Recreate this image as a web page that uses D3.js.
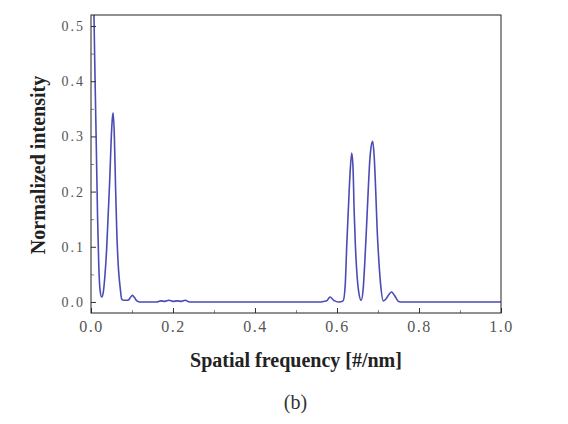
<!DOCTYPE html>
<html>
<head>
<meta charset="utf-8">
<script src="https://cdn.jsdelivr.net/npm/d3@7"></script>
<style>
  body { margin: 0; background: #fff; }
  svg { display: block; }
  .tick text { font-family: "Liberation Serif", "Times New Roman", serif; fill: #555; }
  .xax .tick text { font-size: 16px; letter-spacing: 1.5px; }
  .yax .tick text { font-size: 14px; letter-spacing: 2px; }
  .domain { display: none; }
</style>
</head>
<body>
<div id="chart"></div>
<script>
// spatial frequency [#/nm] and normalized intensity
var freq = [0.000, 0.004, 0.007, 0.010, 0.013, 0.016, 0.019, 0.022, 0.026, 0.030,
            0.034, 0.038, 0.042, 0.046, 0.049, 0.052, 0.054, 0.057, 0.060, 0.063,
            0.067, 0.071, 0.075, 0.080, 0.090, 0.096, 0.101, 0.106, 0.112, 0.120,
            0.160, 0.170, 0.180, 0.190, 0.200, 0.210, 0.220, 0.230, 0.240, 0.250,
            0.300, 0.400, 0.500, 0.560, 0.575, 0.583, 0.592, 0.605, 0.615, 0.620,
            0.624, 0.628, 0.632, 0.636, 0.639, 0.642, 0.645, 0.648, 0.653, 0.659,
            0.664, 0.668, 0.672, 0.676, 0.679, 0.683, 0.687, 0.691, 0.695, 0.698,
            0.701, 0.706, 0.713, 0.720, 0.727, 0.733, 0.740, 0.750, 0.760, 0.800,
            0.900, 1.000];
var intensity = [0.950, 0.700, 0.530, 0.400, 0.280, 0.155, 0.065, 0.022, 0.009, 0.018,
                 0.048, 0.094, 0.160, 0.227, 0.290, 0.332, 0.343, 0.300, 0.205, 0.124,
                 0.060, 0.027, 0.005, 0.003, 0.003, 0.008, 0.012, 0.008, 0.002, 0.000,
                 0.000, 0.002, 0.001, 0.003, 0.001, 0.002, 0.001, 0.003, 0.000, 0.000,
                 0.000, 0.000, 0.000, 0.000, 0.002, 0.009, 0.003, 0.000, 0.002, 0.030,
                 0.107, 0.173, 0.235, 0.270, 0.245, 0.161, 0.100, 0.058, 0.018, 0.003,
                 0.025, 0.075, 0.136, 0.200, 0.245, 0.280, 0.291, 0.260, 0.190, 0.130,
                 0.088, 0.035, 0.002, 0.006, 0.014, 0.018, 0.012, 0.001, 0.000, 0.000,
                 0.000, 0.000];

var xTicks = [0, 0.2, 0.4, 0.6, 0.8, 1.0];
var xMinor = [0.1, 0.3, 0.5, 0.7, 0.9];
var yTicks = [0, 0.1, 0.2, 0.3, 0.4, 0.5];
var yMinor = [0.05, 0.15, 0.25, 0.35, 0.45];

var width = 568, height = 424;
var margin = {top: 15, right: 67, bottom: 111, left: 91};
var w = width - margin.left - margin.right,
    h = height - margin.top - margin.bottom;

var data = freq.map(function(f, i) { return {x: f, y: intensity[i]}; });

var x = d3.scaleLinear().domain([0, 1]).range([0, w]);
var y = d3.scaleLinear().domain([-0.02, 0.52]).range([h, 0]);

var svg = d3.select("#chart").append("svg")
    .attr("width", width)
    .attr("height", height);

var g = svg.append("g")
    .attr("transform", "translate(" + margin.left + "," + margin.top + ")");

g.append("clipPath").attr("id", "clip")
  .append("rect").attr("width", w).attr("height", h);

// the curve
var line = d3.line()
    .x(function(d) { return x(d.x); })
    .y(function(d) { return y(d.y); })
    .curve(d3.curveMonotoneX);

g.append("path")
    .datum(data)
    .attr("clip-path", "url(#clip)")
    .attr("fill", "none")
    .attr("stroke", "#4b4bb5")
    .attr("stroke-width", 1.6)
    .attr("d", line);

// axes, ticks pointing inward
var xAxis = g.append("g")
    .attr("class", "xax")
    .attr("transform", "translate(0," + h + ")")
    .call(d3.axisBottom(x).tickValues(xTicks).tickFormat(d3.format(".1f"))
      .tickSizeInner(-5).tickSizeOuter(0).tickPadding(8));
xAxis.selectAll("line").attr("stroke", "#333");

g.append("g")
    .attr("transform", "translate(0," + h + ")")
    .call(d3.axisBottom(x).tickValues(xMinor).tickFormat("")
      .tickSizeInner(-3).tickSizeOuter(0))
    .selectAll("line").attr("stroke", "#888");

var yAxis = g.append("g")
    .attr("class", "yax")
    .call(d3.axisLeft(y).tickValues(yTicks).tickFormat(d3.format(".1f"))
      .tickSizeInner(-5).tickSizeOuter(0).tickPadding(6));
yAxis.selectAll("line").attr("stroke", "#333");

g.append("g")
    .call(d3.axisLeft(y).tickValues(yMinor).tickFormat("")
      .tickSizeInner(-3).tickSizeOuter(0))
    .selectAll("line").attr("stroke", "#888");

// frame
g.append("rect")
    .attr("width", w)
    .attr("height", h)
    .attr("fill", "none")
    .attr("stroke", "#222")
    .attr("stroke-width", 1);

// titles
svg.append("text")
    .attr("x", 296)
    .attr("y", 367)
    .attr("text-anchor", "middle")
    .style("font-family", "'Liberation Serif', 'Times New Roman', serif")
    .style("font-weight", "bold")
    .style("font-size", "20px")
    .attr("fill", "#222")
    .text("Spatial frequency [#/nm]");

svg.append("text")
    .attr("transform", "translate(45,165) rotate(-90)")
    .attr("text-anchor", "middle")
    .style("font-family", "'Liberation Serif', 'Times New Roman', serif")
    .style("font-weight", "bold")
    .style("font-size", "20px")
    .attr("fill", "#222")
    .text("Normalized intensity");

svg.append("text")
    .attr("x", 295.5)
    .attr("y", 409)
    .attr("text-anchor", "middle")
    .style("font-family", "'Liberation Serif', 'Times New Roman', serif")
    .style("font-size", "20px")
    .attr("fill", "#333")
    .text("(b)");
</script>
</body>
</html>
